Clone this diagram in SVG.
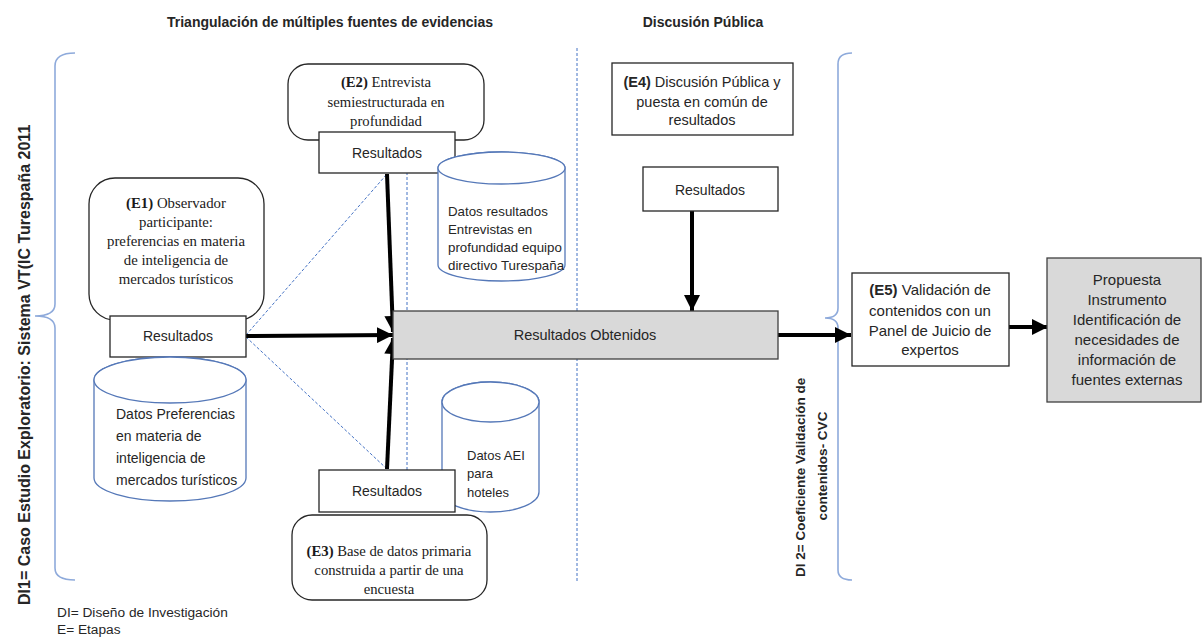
<svg xmlns="http://www.w3.org/2000/svg" width="1203" height="639" viewBox="0 0 1203 639">
  <style>
    .sans { font-family: "Liberation Sans", Arial, sans-serif; fill: #262626; }
    .serif { font-family: "Liberation Serif", "Times New Roman", serif; fill: #1a1a1a; }
    .bold { font-weight: bold; }
    .box { fill: #ffffff; stroke: #262626; stroke-width: 1.3; }
    .gray { fill: #d9d9d9; stroke: #404040; stroke-width: 1.3; }
    .cyl { fill: #ffffff; stroke: #5578b8; stroke-width: 1.3; }
    .brace { fill: none; stroke: #8eaadb; stroke-width: 1.6; }
    .dash { fill: none; stroke: #4472c4; stroke-width: 1; stroke-dasharray: 3 2; }
    .thick { fill: none; stroke: #000000; stroke-width: 4; }
  </style>
  <defs>
    <marker id="arrow" markerUnits="userSpaceOnUse" markerWidth="18" markerHeight="16" refX="16" refY="8" orient="auto">
      <path d="M0,0 L16,8 L0,16 Z" fill="#000000"/>
    </marker>
  </defs>
  <rect width="1203" height="639" fill="#ffffff"/>

  <!-- section headings -->
  <text class="sans bold" x="330" y="27" font-size="14" text-anchor="middle">Triangulación de múltiples fuentes de evidencias</text>
  <text class="sans bold" x="703" y="27" font-size="14" text-anchor="middle">Discusión Pública</text>

  <!-- research-design braces and separators -->
  <g id="design-markers">
    <path class="brace" d="M75,53 Q55,53 55,66 V304 Q55,316 35,316 Q55,316 55,328 V568 Q55,580 75,580"/>
    <path class="brace" d="M852,53 Q838,53 838,64 V308 Q838,318 825,318 Q838,318 838,328 V570 Q838,580 852,580"/>
    <line class="dash" x1="577" y1="48" x2="577" y2="582"/>
    <text class="sans bold" transform="translate(30,605) rotate(-90)" font-size="16">DI1= Caso Estudio Exploratorio: Sistema VT(IC Turespaña 2011</text>
    <text class="sans bold" transform="translate(805,577) rotate(-90)" font-size="13.5">DI 2=  Coeficiente Validación de</text>
    <text class="sans bold" transform="translate(827,466) rotate(-90)" font-size="13.5" text-anchor="middle">contenidos- CVC</text>
  </g>

  <!-- connectors -->
  <g id="connectors">
    <line class="dash" x1="246" y1="335" x2="387" y2="174"/>
    <line class="dash" x1="246" y1="337" x2="387" y2="469"/>
    <line class="dash" x1="407" y1="172" x2="407" y2="470"/>
    <line class="thick" x1="246" y1="336" x2="393" y2="335" marker-end="url(#arrow)"/>
    <line class="thick" x1="387" y1="174" x2="393" y2="332" marker-end="url(#arrow)"/>
    <line class="thick" x1="387" y1="469" x2="393" y2="338" marker-end="url(#arrow)"/>
    <line class="thick" x1="692" y1="211" x2="692" y2="311" marker-end="url(#arrow)"/>
    <line class="thick" x1="778" y1="335" x2="851" y2="335" marker-end="url(#arrow)"/>
    <line class="thick" x1="1009" y1="327" x2="1048" y2="327" marker-end="url(#arrow)"/>
  </g>

  <!-- E1 observer -->
  <g id="e1">
    <rect class="box" x="89" y="178" width="175" height="142" rx="26"/>
    <text class="serif" x="176" y="208" font-size="14.8" text-anchor="middle"><tspan font-weight="bold">(E1)</tspan> Observador</text>
    <text class="serif" x="176" y="227" font-size="14.8" text-anchor="middle">participante:</text>
    <text class="serif" x="176" y="246" font-size="14.8" text-anchor="middle">preferencias en materia</text>
    <text class="serif" x="176" y="265" font-size="14.8" text-anchor="middle">de inteligencia de</text>
    <text class="serif" x="176" y="284" font-size="14.8" text-anchor="middle">mercados turísticos</text>
  </g>
  <g id="e1-resultados">
    <rect class="box" x="110" y="316" width="136" height="41"/>
    <text class="sans" x="178" y="341" font-size="14" text-anchor="middle">Resultados</text>
  </g>
  <g id="e1-datos">
    <path class="cyl" d="M94,380 A76,23 0 0 1 246,380 V478 A76,23 0 0 1 94,478 Z"/>
    <ellipse class="cyl" cx="170" cy="380" rx="76" ry="23"/>
    <text class="sans" x="116" y="419" font-size="14">Datos Preferencias</text>
    <text class="sans" x="116" y="441" font-size="14">en materia de</text>
    <text class="sans" x="116" y="463" font-size="14">inteligencia de</text>
    <text class="sans" x="116" y="485" font-size="14">mercados turísticos</text>
  </g>

  <!-- E2 interview -->
  <g id="e2">
    <rect class="box" x="288" y="64" width="196" height="76" rx="20"/>
    <text class="serif" x="386" y="87" font-size="14.7" text-anchor="middle"><tspan font-weight="bold">(E2)</tspan> Entrevista</text>
    <text class="serif" x="386" y="107" font-size="14.7" text-anchor="middle">semiestructurada en</text>
    <text class="serif" x="386" y="126" font-size="14.7" text-anchor="middle">profundidad</text>
  </g>
  <g id="e2-resultados">
    <rect class="box" x="319" y="132" width="136" height="41"/>
    <text class="sans" x="387" y="158" font-size="14" text-anchor="middle">Resultados</text>
  </g>
  <g id="e2-datos">
    <path class="cyl" d="M438,168 A63.5,16 0 0 1 565,168 V265 A63.5,16 0 0 1 438,265 Z"/>
    <ellipse class="cyl" cx="501.5" cy="168" rx="63.5" ry="16"/>
    <text class="sans" x="448" y="216" font-size="13.3">Datos resultados</text>
    <text class="sans" x="448" y="234" font-size="13.3">Entrevistas en</text>
    <text class="sans" x="448" y="252" font-size="13.3">profundidad equipo</text>
    <text class="sans" x="448" y="270" font-size="13.3">directivo Turespaña</text>
  </g>

  <!-- E3 survey database -->
  <g id="e3-datos">
    <path class="cyl" d="M442,402 A48.5,20 0 0 1 539,402 V492 A48.5,20 0 0 1 442,492 Z"/>
    <ellipse class="cyl" cx="490.5" cy="402" rx="48.5" ry="20"/>
    <text class="sans" x="467" y="460" font-size="13">Datos AEI</text>
    <text class="sans" x="467" y="478" font-size="13">para</text>
    <text class="sans" x="467" y="497" font-size="13">hoteles</text>
  </g>
  <g id="e3-resultados">
    <rect class="box" x="319" y="470" width="136" height="42"/>
    <text class="sans" x="387" y="496" font-size="14" text-anchor="middle">Resultados</text>
  </g>
  <g id="e3">
    <rect class="box" x="292" y="515" width="195" height="85" rx="20"/>
    <text class="serif" x="389" y="556" font-size="14.7" text-anchor="middle"><tspan font-weight="bold">(E3)</tspan> Base de datos primaria</text>
    <text class="serif" x="389" y="575" font-size="14.7" text-anchor="middle">construida a partir de una</text>
    <text class="serif" x="389" y="594" font-size="14.7" text-anchor="middle">encuesta</text>
  </g>

  <!-- combined results -->
  <g id="resultados-obtenidos">
    <rect class="gray" x="393" y="311" width="385" height="48"/>
    <text class="sans" x="585" y="340" font-size="14.5" text-anchor="middle">Resultados Obtenidos</text>
  </g>

  <!-- E4 public discussion -->
  <g id="e4">
    <rect class="box" x="612" y="63" width="181" height="72"/>
    <text class="sans" x="702" y="87" font-size="14.5" text-anchor="middle"><tspan font-weight="bold">(E4)</tspan> Discusión Pública y</text>
    <text class="sans" x="702" y="107" font-size="14.5" text-anchor="middle">puesta en común de</text>
    <text class="sans" x="702" y="125" font-size="14.5" text-anchor="middle">resultados</text>
  </g>
  <g id="e4-resultados">
    <rect class="box" x="643" y="167" width="135" height="44"/>
    <text class="sans" x="710" y="195" font-size="14" text-anchor="middle">Resultados</text>
  </g>

  <!-- E5 expert validation -->
  <g id="e5">
    <rect class="box" x="852" y="273" width="157" height="93"/>
    <text class="sans" x="930" y="295" font-size="15" text-anchor="middle"><tspan font-weight="bold">(E5)</tspan> Validación de</text>
    <text class="sans" x="930" y="316" font-size="15" text-anchor="middle">contenidos con un</text>
    <text class="sans" x="930" y="336" font-size="15" text-anchor="middle">Panel de Juicio de</text>
    <text class="sans" x="930" y="355" font-size="15" text-anchor="middle">expertos</text>
  </g>

  <!-- final proposal -->
  <g id="propuesta">
    <rect class="gray" x="1047" y="258" width="154" height="144"/>
    <text class="sans" x="1127" y="285" font-size="15" text-anchor="middle">Propuesta</text>
    <text class="sans" x="1127" y="305" font-size="15" text-anchor="middle">Instrumento</text>
    <text class="sans" x="1127" y="325" font-size="15" text-anchor="middle">Identificación de</text>
    <text class="sans" x="1127" y="345" font-size="15" text-anchor="middle">necesidades de</text>
    <text class="sans" x="1127" y="365" font-size="15" text-anchor="middle">información de</text>
    <text class="sans" x="1127" y="385" font-size="15" text-anchor="middle">fuentes externas</text>
  </g>

  <!-- legend -->
  <g id="legend">
    <text class="sans" x="57" y="617" font-size="13.7">DI= Diseño de Investigación</text>
    <text class="sans" x="57" y="634" font-size="13.7">E= Etapas</text>
  </g>
</svg>
